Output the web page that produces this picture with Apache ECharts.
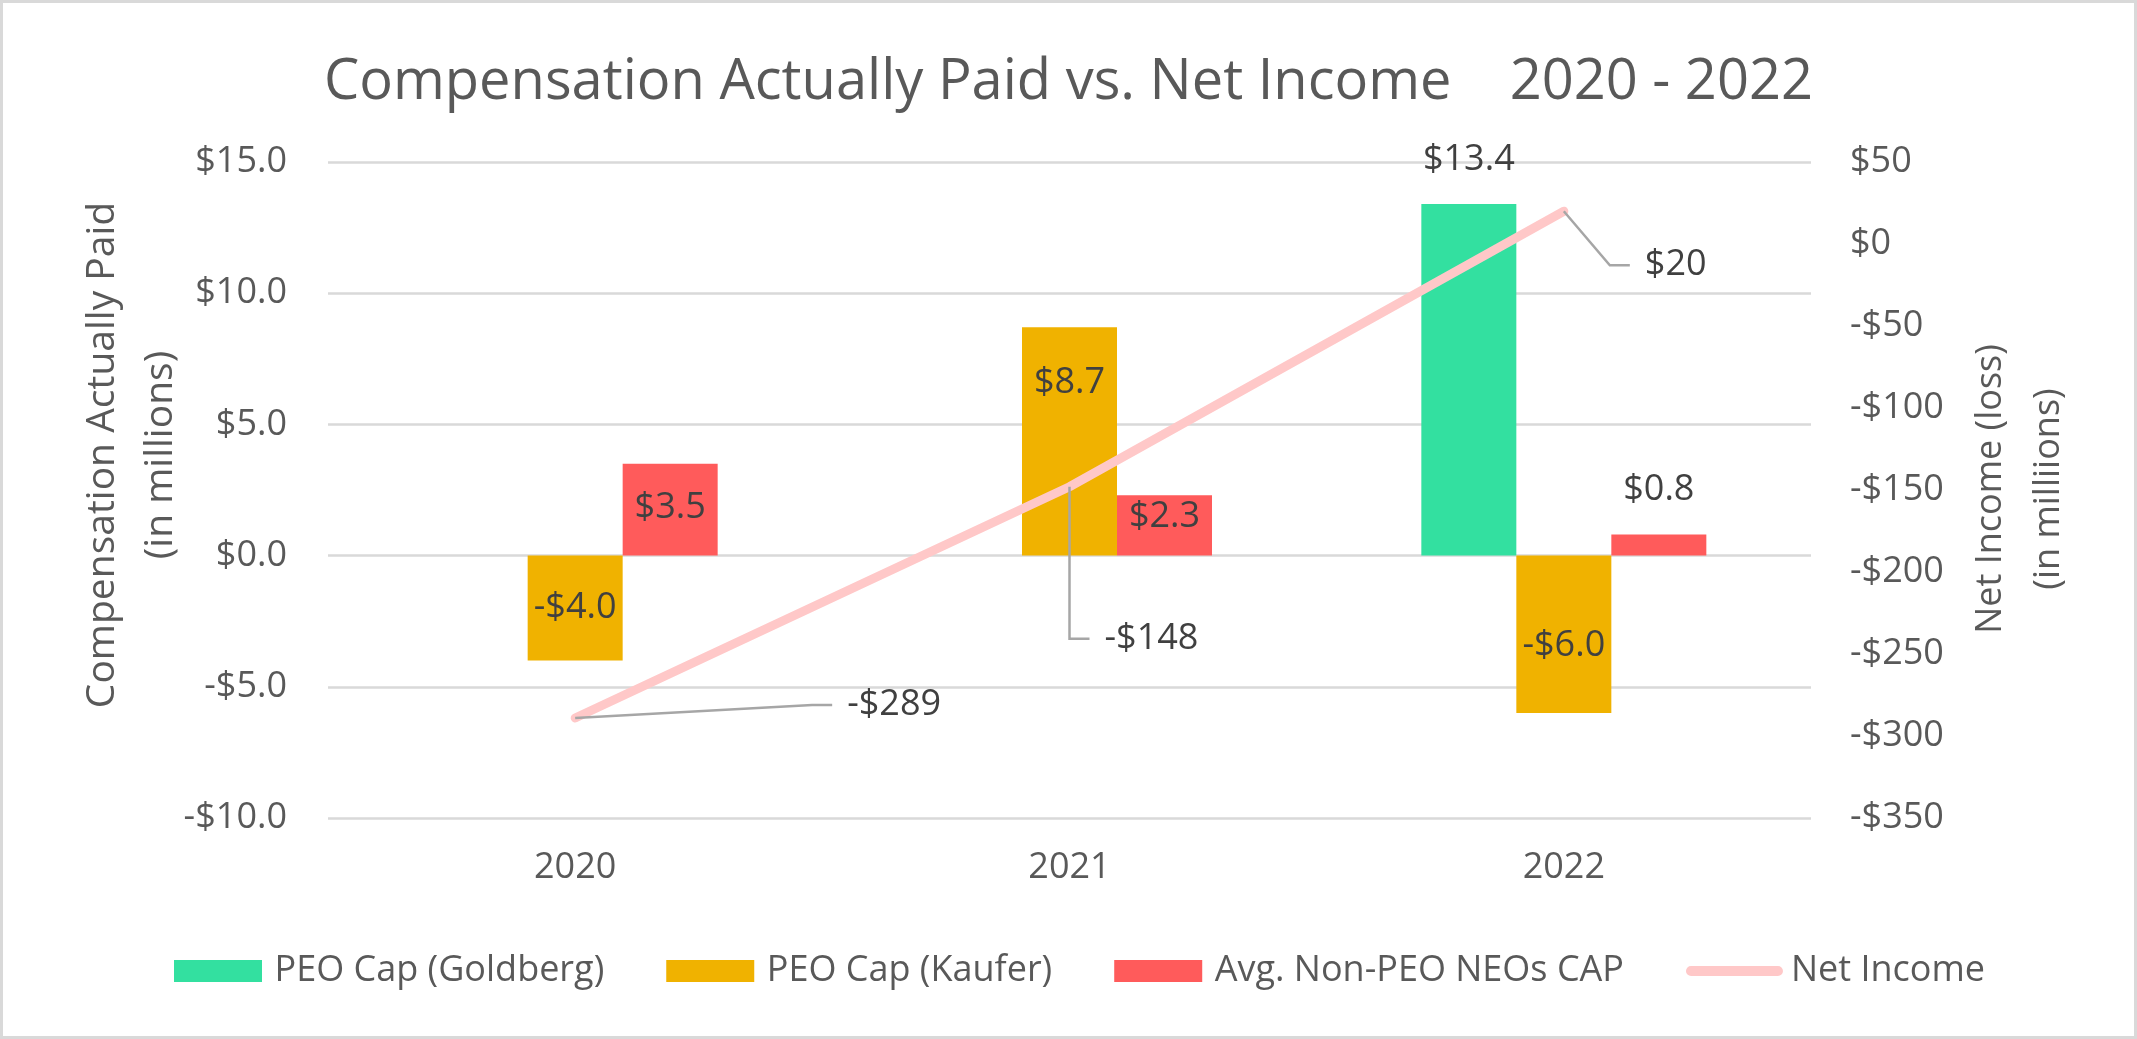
<!DOCTYPE html>
<html><head><meta charset="utf-8">
<script src="https://cdn.jsdelivr.net/npm/echarts@6/dist/echarts.min.js"></script>
<style>html,body{margin:0;padding:0;background:#fff}#c{width:2137px;height:1039px}</style>
</head><body><div id="c"></div>
<script>
// ---- data ----
const years = ['2020', '2021', '2022'];
const peoGoldberg = [null, null, 13.4];
const peoKaufer = [-4.0, 8.7, -6.0];
const avgNonPeo = [3.5, 2.3, 0.8];
const netIncome = [-289, -148, 20];
const leftAxisRange = [-10, 15];
const leftAxisStep = 5;
const rightAxisRange = [-350, 50];
const rightAxisStep = 50;

// ---- styling ----
const FONT = '"Open Sans", sans-serif';
const AXIS_COLOR = '#595959';
const LABEL_COLOR = '#404040';
const FS = 36;
function money1(v) { return (v < 0 ? '-$' : '$') + Math.abs(v).toFixed(1); }
function money0(v) { return (v < 0 ? '-$' : '$') + Math.abs(v).toFixed(0); }

const labelBase = { show: true, fontFamily: FONT, fontSize: FS, color: LABEL_COLOR, formatter: p => money1(p.value) };
const kauferLabel = [{ position: 'inside' }, { position: 'insideTop', distance: 37 }, { position: 'inside', offset: [0, 11] }];
const nonPeoLabel = [{ position: 'inside', offset: [0, -2] }, { position: 'inside', offset: [0, -9] }, { position: 'top', distance: 27 }];
// leader line geometry for net income labels (pixel offsets from the point)
const leader = [{ dx: 237, dy: -13 }, { dx: 0, dy: 152 }, { dx: 46, dy: 54 }];

const rectIcon = 'path://M0,0L88,0L88,22L0,22Z';
const lineIcon = 'path://M5,0L91,0A5,5,0,0,1,91,10L5,10A5,5,0,0,1,5,0Z';

const chart = echarts.init(document.getElementById('c'), null, { renderer: 'canvas' });
chart.setOption({
  backgroundColor: '#ffffff',
  animation: false,
  title: {
    text: 'Compensation Actually Paid vs. Net Income    2020 - 2022',
    left: 'center', top: 50,
    textStyle: { fontFamily: FONT, fontSize: 56, fontWeight: 'normal', color: AXIS_COLOR }
  },
  grid: { left: 328, right: 326, top: 162, bottom: 221, containLabel: false, outerBoundsMode: 'none' },
  legend: {
    top: 953, left: 174, padding: 0,
    itemWidth: 97, itemHeight: 22, itemGap: 62, symbolKeepAspect: true,
    textStyle: { fontFamily: FONT, fontSize: FS, color: AXIS_COLOR, padding: [0, 0, 0, 3] },
    data: [
      { name: 'PEO Cap (Goldberg)', icon: rectIcon },
      { name: 'PEO Cap (Kaufer)', icon: rectIcon },
      { name: 'Avg. Non-PEO NEOs CAP', icon: rectIcon },
      { name: 'Net Income', icon: lineIcon }
    ]
  },
  xAxis: {
    type: 'category', data: years,
    axisLine: { show: false }, axisTick: { show: false },
    axisLabel: { fontFamily: FONT, fontSize: FS, color: AXIS_COLOR, margin: 32 }
  },
  yAxis: [
    {
      type: 'value', position: 'left', min: leftAxisRange[0], max: leftAxisRange[1], interval: leftAxisStep,
      axisLine: { show: false }, axisTick: { show: false },
      axisLabel: { fontFamily: FONT, fontSize: FS, color: AXIS_COLOR, margin: 41, formatter: v => money1(v) },
      splitLine: { lineStyle: { color: '#d9d9d9', width: 2.5 } }
    },
    {
      type: 'value', position: 'right', min: rightAxisRange[0], max: rightAxisRange[1], interval: rightAxisStep,
      axisLine: { show: false }, axisTick: { show: false },
      axisLabel: { fontFamily: FONT, fontSize: FS, color: AXIS_COLOR, margin: 39, formatter: v => money0(v) },
      splitLine: { show: false }
    }
  ],
  graphic: [
    { type: 'rect', silent: true, z: -10, shape: { x: 1.5, y: 1.5, width: 2134, height: 1036 },
      style: { fill: 'none', stroke: '#d9d9d9', lineWidth: 3 } },
    { type: 'text', x: 132, y: 455, rotation: Math.PI / 2, silent: true,
      style: { text: 'Compensation Actually Paid\n(in millions)', fontFamily: FONT, fontSize: 39, lineHeight: 58,
        fill: AXIS_COLOR, align: 'center', verticalAlign: 'middle', textAlign: 'center', textVerticalAlign: 'middle' } },
    { type: 'text', x: 2020, y: 489, rotation: Math.PI / 2, silent: true,
      style: { text: 'Net Income (loss)\n(in milliions)', fontFamily: FONT, fontSize: 36, lineHeight: 58,
        fill: AXIS_COLOR, align: 'center', verticalAlign: 'middle', textAlign: 'center', textVerticalAlign: 'middle' } }
  ],
  series: [
    {
      name: 'PEO Cap (Goldberg)', type: 'bar', data: peoGoldberg, barWidth: 95, barGap: '0%',
      itemStyle: { color: '#33e0a0' },
      label: Object.assign({}, labelBase, { position: 'top', distance: 26 })
    },
    {
      name: 'PEO Cap (Kaufer)', type: 'bar', barWidth: 95, barGap: '0%',
      data: peoKaufer.map((v, i) => ({ value: v, label: kauferLabel[i] })),
      itemStyle: { color: '#f0b200' },
      label: labelBase
    },
    {
      name: 'Avg. Non-PEO NEOs CAP', type: 'bar', barWidth: 95, barGap: '0%',
      data: avgNonPeo.map((v, i) => ({ value: v, label: nonPeoLabel[i] })),
      itemStyle: { color: '#ff5b5b' },
      label: labelBase
    },
    {
      name: 'Net Income', type: 'line', yAxisIndex: 1, data: netIncome, z: 5,
      symbol: 'none', lineStyle: { color: '#ffc8c8', width: 9, cap: 'round' },
      itemStyle: { color: '#ffc8c8' }
    },
    {
      name: 'Net Income labels', type: 'custom', yAxisIndex: 1, z: 6, silent: true,
      data: netIncome.map((v, i) => [i, v]),
      renderItem: function (params, api) {
        const p = api.coord([api.value(0), api.value(1)]);
        const o = leader[params.dataIndex];
        const ex = p[0] + o.dx, ey = p[1] + o.dy;
        return {
          type: 'group',
          children: [
            { type: 'polyline', shape: { points: [p, [ex, ey], [ex + 20, ey]] },
              style: { stroke: '#a6a6a6', lineWidth: 2.5, fill: null } },
            { type: 'text', x: ex + 35, y: ey,
              style: { text: money0(api.value(1)), fontFamily: FONT, fontSize: FS, fill: LABEL_COLOR,
                align: 'left', verticalAlign: 'middle', textAlign: 'left', textVerticalAlign: 'middle' } }
          ]
        };
      }
    }
  ]
});
</script>
</body></html>
